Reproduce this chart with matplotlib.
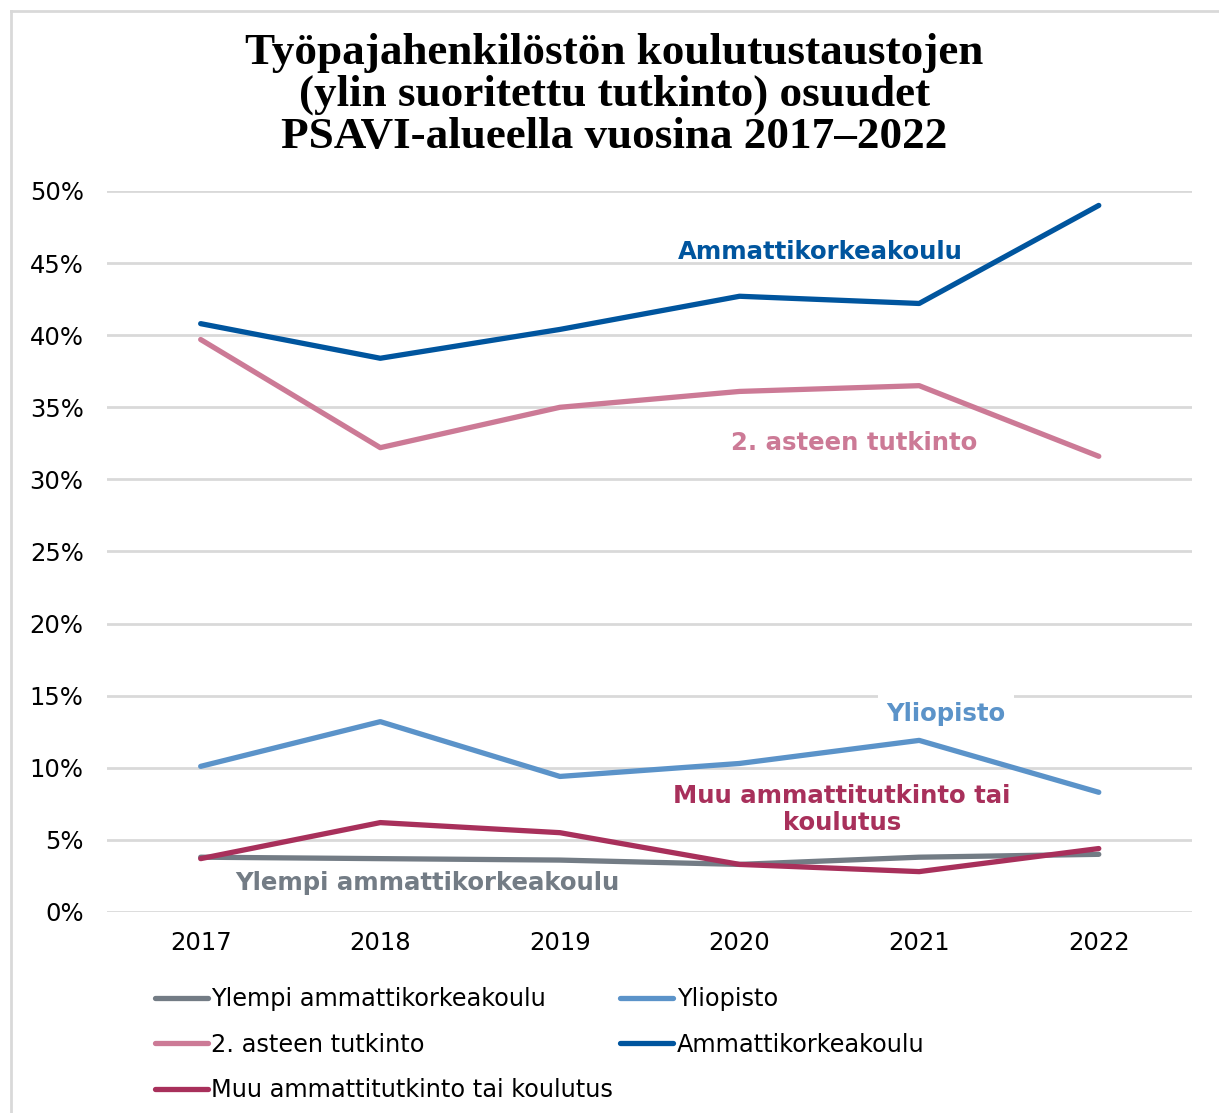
import matplotlib
matplotlib.use("Agg")
import matplotlib.pyplot as plt
from matplotlib.lines import Line2D

years = ["2017", "2018", "2019", "2020", "2021", "2022"]
ylempi_amk = [3.8, 3.7, 3.6, 3.3, 3.8, 4.0]
yliopisto = [10.1, 13.2, 9.4, 10.3, 11.9, 8.3]
toinen_aste = [39.7, 32.2, 35.0, 36.1, 36.5, 31.6]
amk = [40.8, 38.4, 40.4, 42.7, 42.2, 49.0]
muu = [3.7, 6.2, 5.5, 3.3, 2.8, 4.4]

C_YLEMPI = "#737c85"
C_YLIOP = "#5b93c9"
C_TOINEN = "#cc7a96"
C_AMK = "#00559e"
C_MUU = "#a8305b"

plt.rcParams["font.family"] = ["DejaVu Sans"]

fig = plt.figure(figsize=(12.19, 11.13), dpi=100)
ax = fig.add_axes([0.088, 0.1806, 0.89, 0.6478])

x = range(len(years))
lw = 3.8
series = [
    ("Ylempi ammattikorkeakoulu", ylempi_amk, C_YLEMPI),
    ("Yliopisto", yliopisto, C_YLIOP),
    ("2. asteen tutkinto", toinen_aste, C_TOINEN),
    ("Ammattikorkeakoulu", amk, C_AMK),
    ("Muu ammattitutkinto tai koulutus", muu, C_MUU),
]
for name, vals, col in series:
    ax.plot(x, vals, color=col, lw=lw, solid_capstyle="round",
            solid_joinstyle="round", zorder=3)

ax.set_xlim(-0.52, 5.52)
ax.set_ylim(0, 50)
ax.set_yticks(range(0, 51, 5))
ax.set_yticklabels([f"{v}%" for v in range(0, 51, 5)])
ax.set_xticks(list(x))
ax.set_xticklabels(years)
ax.tick_params(length=0, labelsize=17.5, colors="black")
ax.tick_params(axis="y", pad=17)
ax.tick_params(axis="x", pad=14)
ax.grid(axis="y", color="#d9d9d9", lw=2)
ax.set_axisbelow(True)
for s in ax.spines.values():
    s.set_visible(False)

lab = dict(fontsize=17.6, fontweight="bold", ha="center", va="center")
ax.text(3.45, 45.8, "Ammattikorkeakoulu", color=C_AMK, **lab)
ax.text(3.64, 32.5, "2. asteen tutkinto", color=C_TOINEN, **lab)
ax.text(4.15, 13.7, "Yliopisto", color=C_YLIOP,
        bbox=dict(facecolor="white", edgecolor="none", pad=6), **lab)
ax.text(3.57, 7.1, "Muu ammattitutkinto tai\nkoulutus", color=C_MUU,
        linespacing=1.15, **lab)
ax.text(1.26, 2.0, "Ylempi ammattikorkeakoulu", color=C_YLEMPI, **lab)

fig.text(0.504, 0.9146,
         "Työpajahenkilöstön koulutustaustojen\n(ylin suoritettu tutkinto) osuudet\nPSAVI-alueella vuosina 2017\u20132022",
         ha="center", va="center", fontsize=32.5, fontweight="bold",
         family="Liberation Serif", linespacing=1.05)

order = [0, 2, 4, 1, 3]
handles = [Line2D([], [], color=series[i][2], lw=lw, solid_capstyle="round")
           for i in order]
labels = [series[i][0] for i in order]
fig.legend(handles, labels, ncol=2, loc="upper left",
           bbox_to_anchor=(0.127, 0.1132), frameon=False, fontsize=17.3,
           handlelength=2.2, handletextpad=0.15, columnspacing=0.3,
           labelspacing=0.9, borderaxespad=0, borderpad=0)

# light frame on top and left like the source image
fig.add_artist(Line2D([0.009, 1.0], [0.990, 0.990], color="#d9d9d9", lw=2,
                      transform=fig.transFigure))
fig.add_artist(Line2D([0.009, 0.009], [0.0, 0.990], color="#d9d9d9", lw=2,
                      transform=fig.transFigure))

fig.savefig("out.png", dpi=100, facecolor="white")
